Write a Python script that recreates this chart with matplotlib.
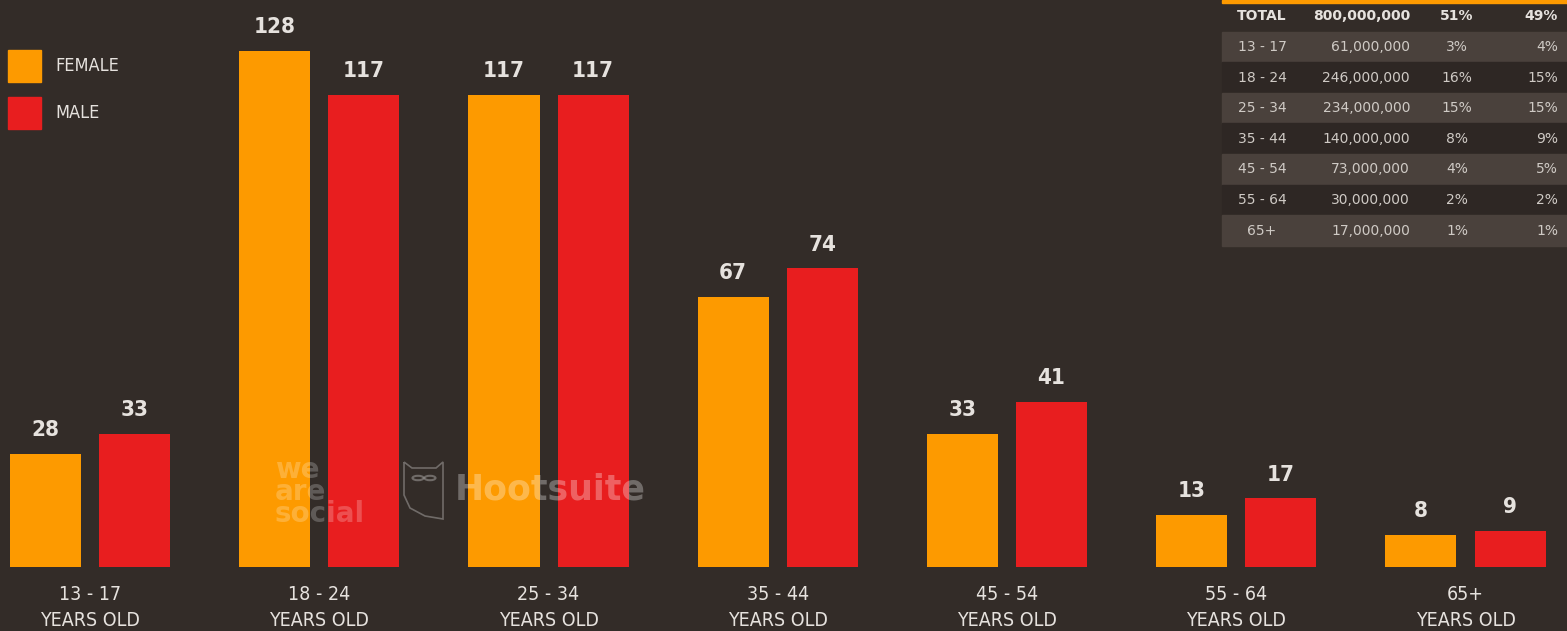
import matplotlib
matplotlib.use('Agg')
import matplotlib.pyplot as plt
import numpy as np
from matplotlib.patches import Rectangle, Circle, PathPatch
from matplotlib.path import Path

plt.rcParams['font.family'] = ['DejaVu Sans']
plt.rcParams['font.stretch'] = 'condensed'

# chart data (millions of users)
age_groups = ['13 - 17', '18 - 24', '25 - 34', '35 - 44', '45 - 54', '55 - 64', '65+']
female = [28, 128, 117, 67, 33, 13, 8]
male = [33, 117, 117, 74, 41, 17, 9]

# summary table
tbl_total = ['TOTAL', '800,000,000', '51%', '49%']
tbl_ages = ['13 - 17', '18 - 24', '25 - 34', '35 - 44', '45 - 54', '55 - 64', '65+']
tbl_users = ['61,000,000', '246,000,000', '234,000,000', '140,000,000',
             '73,000,000', '30,000,000', '17,000,000']
tbl_female = ['3%', '16%', '15%', '8%', '4%', '2%', '1%']
tbl_male = ['4%', '15%', '15%', '9%', '5%', '2%', '1%']

bg = '#332c28'
orange = '#fd9a00'
red = '#e81e1f'
txt = '#e6e2de'

W, H = 1567, 631
fig = plt.figure(figsize=(W / 100, H / 100), dpi=100)
fig.patch.set_facecolor(bg)
ax = fig.add_axes([0, 0, 1, 1])
ax.set_facecolor(bg)

step = 229.25  # px between groups
ax.set_xlim(-90 / step, (W - 90) / step)
ppu = 4.035
ax.set_ylim(-(H - 567) / ppu, 567 / ppu)
ax.axis('off')

x = np.arange(len(age_groups))
width = 71 / step
off = 44.5 / step
b1 = ax.bar(x - off, female, width, color=orange, zorder=2)
b2 = ax.bar(x + off, male, width, color=red, zorder=2)
for bars, vals in ((b1, female), (b2, male)):
    for rect, v in zip(bars, vals):
        ax.annotate(str(v), (rect.get_x() + rect.get_width() / 2, v),
                    xytext=(0, 10), textcoords='offset points', ha='center', va='bottom',
                    fontsize=16, color=txt, fontweight='bold')

for i, lab in enumerate(age_groups):
    ax.text(i, -28 / ppu, lab, ha='center', va='center', fontsize=14, color=txt)
    ax.text(i, -54 / ppu, 'YEARS OLD', ha='center', va='center', fontsize=14, color=txt)

# legend
def px(xp, yp):
    return (xp / W, 1 - yp / H)

for (name, col, yc) in (('FEMALE', orange, 66), ('MALE', red, 113)):
    fig.patches.append(Rectangle(px(8, yc + 16), 33 / W, 32 / H, color=col,
                                 transform=fig.transFigure, figure=fig))
    fig.text(*px(55, yc), name, ha='left', va='center', fontsize=13, color=txt)

# watermark
fig.text(*px(275, 492), 'we\nare\nsocial', ha='left', va='center', fontsize=20,
         fontweight='bold', color='white', alpha=0.22, linespacing=0.72,
         fontstretch='normal')
fig.text(*px(455, 490), 'Hootsuite', ha='left', va='center', fontsize=25,
         fontweight='bold', color='white', alpha=0.3, fontstretch='normal')
owl = [(404, 462), (412, 468), (436, 468), (443, 462), (443, 519),
       (425, 516), (410, 508), (404, 495), (404, 462)]
verts = [px(a, b) for a, b in owl]
fig.patches.append(PathPatch(Path(verts), fill=False, edgecolor='white', alpha=0.3,
                             lw=1.2, transform=fig.transFigure, figure=fig))
for cx in (418, 430):
    fig.patches.append(Circle(px(cx, 478), 5.5 / W, fill=False, edgecolor='white',
                              alpha=0.3, lw=1.5, transform=fig.transFigure, figure=fig))

# table
fig.patches.append(Rectangle(px(1222, 3), (W - 1222) / W, 3 / H, color=orange,
                             transform=fig.transFigure, figure=fig))
col_x = [1262, 1410, 1457, 1558]
col_ha = ['center', 'right', 'center', 'right']
for cxp, ha, s in zip(col_x, col_ha, tbl_total):
    fig.text(*px(cxp, 16), s, ha=ha, va='center', fontsize=10, fontweight='bold',
             color=txt, fontstretch='normal')
rh = 30.6
for k in range(len(tbl_ages)):
    yc = 47 + rh * k
    shade = '#4a413c' if k % 2 == 0 else '#2e2724'
    fig.patches.append(Rectangle(px(1222, yc + rh / 2), (W - 1222) / W, rh / H,
                                 color=shade, transform=fig.transFigure, figure=fig, zorder=0))
    row = [tbl_ages[k], tbl_users[k], tbl_female[k], tbl_male[k]]
    for cxp, ha, s in zip(col_x, col_ha, row):
        fig.text(*px(cxp, yc), s, ha=ha, va='center', fontsize=10, color='#cfcac5',
                 fontstretch='normal')

fig.savefig('out.png', dpi=100, facecolor=bg)
